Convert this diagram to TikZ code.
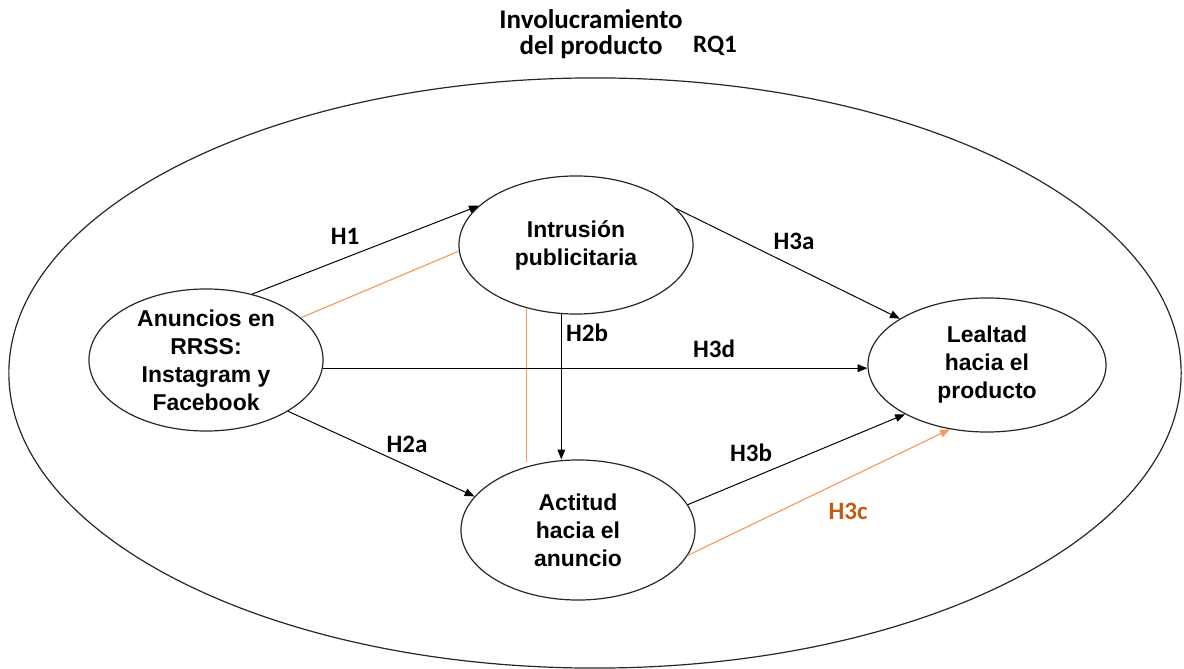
\documentclass[tikz,border=0pt]{standalone}
\usepackage{fontspec}
\setmainfont{Liberation Sans}
\newfontfamily\calfont{Carlito}
\usetikzlibrary{shapes.geometric,arrows.meta,calc}
\definecolor{orline}{RGB}{244,154,90}
\definecolor{ortext}{RGB}{197,90,17}
\tikzset{
  ell/.style={draw=black!85, line width=0.85pt, ellipse, inner sep=0pt},
  ntext/.style={align=center, inner sep=0pt, font=\bfseries\fontsize{16.3pt}{19.9pt}\selectfont},
  hlabel/.style={inner sep=0pt, font=\calfont\bfseries\fontsize{17.8pt}{20pt}\selectfont},
  arr/.style={draw=black, line width=0.7pt, -{Triangle[length=7pt,width=5.5pt]}},
  oline/.style={draw=orline, line width=0.8pt},
  oarr/.style={draw=orline, line width=0.8pt, -{Triangle[length=7pt,width=5.5pt]}},
}
\begin{document}
\begin{tikzpicture}[x=0.025cm,y=-0.025cm]
\useasboundingbox (0,0) rectangle (1184,669);
% outer ellipse
\node[ell, minimum width=29.3cm, minimum height=14.75cm] (outer) at (595,373) {};
% title
\node[align=center, inner sep=0pt, font=\calfont\bfseries\fontsize{19.2pt}{19pt}\selectfont, anchor=base] (title) at (591,55) {Involucramiento\\del producto};
\node[inner sep=0pt, font=\calfont\bfseries\fontsize{17.8pt}{20pt}\selectfont, anchor=base] (rq) at (715,53) {RQ1};
% construct ellipses
\node[ell, minimum width=5.85cm, minimum height=3.55cm] (anu) at (206,360) {};
\node[ell, minimum width=5.85cm, minimum height=3.45cm] (int) at (576,245) {};
\node[ell, minimum width=5.85cm, minimum height=3.5cm] (act) at (578,530) {};
\node[ell, minimum width=5.95cm, minimum height=3.35cm] (lea) at (987,365) {};
% texts
\node[ntext] (anuT) at (anu) {Anuncios en\\RRSS:\\Instagram y\\Facebook};
\node[ntext] (intT) at (int) {Intrusión\\publicitaria};
\node[ntext] (actT) at (act) {Actitud\\hacia el\\anuncio};
\node[ntext] (leaT) at (lea) {Lealtad\\hacia el\\producto};
% connectors
\draw[arr] (anu.55) -- (int.158);
\draw[oline] (anu.24) -- (int.183);
\draw[arr] (int.20) -- (lea.152);
\draw[arr] (int.258) -- (int.258 |- act.north);
\draw[oline] (int.232) -- ($(int.232 |- act.129)+(0,-4)$);
\draw[arr] (anu.-4) -- (anu.-4 -| lea.west);
\draw[arr] (anu.-32) -- (act.162);
\draw[arr] (act.13) -- (lea.211);
\draw[oarr] (act.-13) -- (lea.240);
% labels
\node[hlabel] (h1) at (345,236) {H1};
\node[hlabel] (h3a) at (794,241) {H3a};
\node[hlabel] (h2b) at (587,333) {H2b};
\node[hlabel] (h3d) at (714,348.5) {H3d};
\node[hlabel] (h2a) at (407,444) {H2a};
\node[hlabel] (h3b) at (751,453) {H3b};
\node[hlabel, text=ortext] (h3c) at (848,511.5) {H3c};
\end{tikzpicture}
\end{document}
